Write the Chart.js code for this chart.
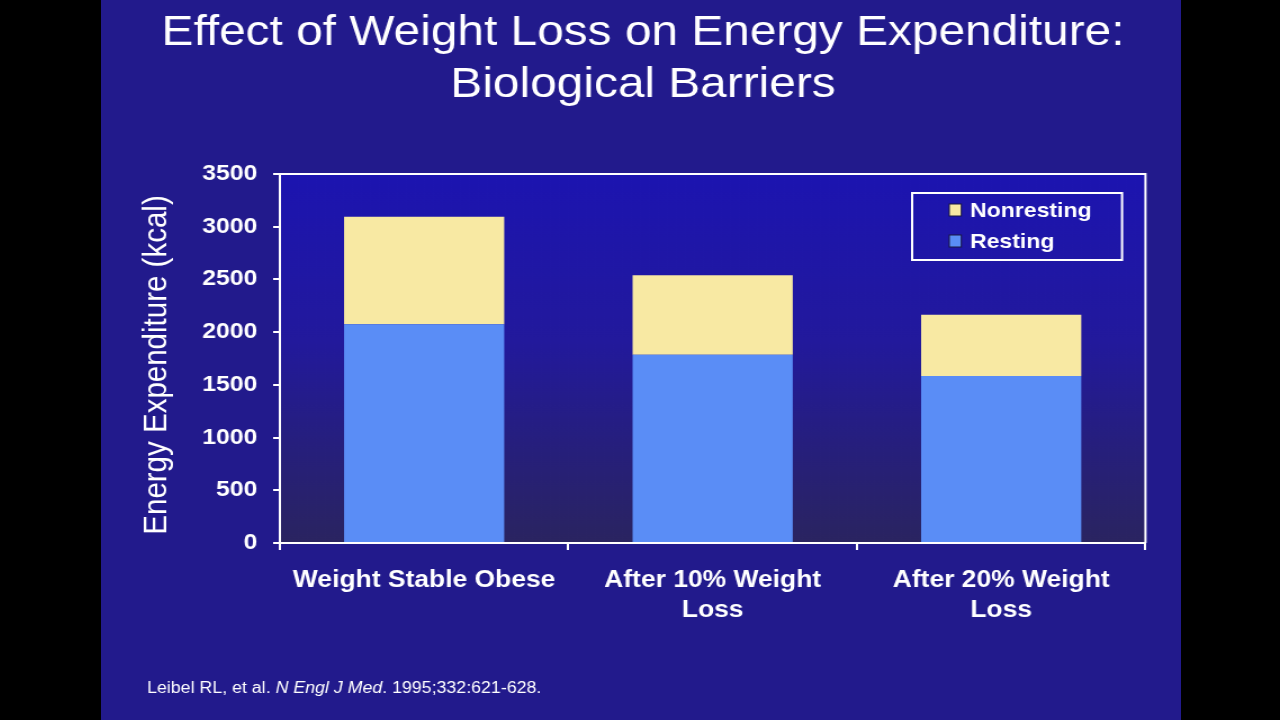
<!DOCTYPE html>
<html>
<head>
<meta charset="utf-8">
<script src="https://cdn.jsdelivr.net/npm/chart.js@4.4.1/dist/chart.umd.min.js"></script>
<style>
  html, body { margin: 0; padding: 0; background: #000; width: 1280px; height: 720px; overflow: hidden; }
  #wrap { position: absolute; left: 101px; top: 0; width: 960px; height: 720px; transform: scaleX(1.125); transform-origin: 0 0; }
  canvas { display: block; }
</style>
</head>
<body>
<div id="wrap"><canvas id="c" width="960" height="720"></canvas></div>
<script>
// ---- data ----
const categories = [['Weight Stable Obese'], ['After 10% Weight', 'Loss'], ['After 20% Weight', 'Loss']];
const restingValues = [2075, 1785, 1585];
const nonrestingValues = [1020, 755, 580];
const yTicks = [0, 500, 1000, 1500, 2000, 2500, 3000, 3500];
const titleLines = ['Effect of Weight Loss on Energy Expenditure:', 'Biological Barriers'];
const yAxisTitle = 'Energy Expenditure (kcal)';
const seriesNames = ['Resting', 'Nonresting'];

const FONT = '"Liberation Sans", Arial, Helvetica, sans-serif';
const RESTING = '#5a8df6';
const NONRESTING = '#f8e9a3';

const decorPlugin = {
  id: 'decor',
  beforeDraw(chart) {
    const ctx = chart.ctx, a = chart.chartArea;
    ctx.save();
    ctx.fillStyle = '#221a8c';
    ctx.fillRect(0, 0, chart.width, chart.height);
    const g = ctx.createLinearGradient(0, a.top, 0, a.bottom);
    g.addColorStop(0, '#1c14b0');
    g.addColorStop(0.45, '#22199c');
    g.addColorStop(1, '#2a2460');
    ctx.fillStyle = g;
    ctx.fillRect(a.left, a.top, a.right - a.left, a.bottom - a.top);
    // title
    ctx.fillStyle = '#ffffff';
    ctx.textAlign = 'center';
    ctx.textBaseline = 'alphabetic';
    ctx.font = '42.5px ' + FONT;
    ctx.fillText(titleLines[0], 481.8, 45);
    ctx.fillText(titleLines[1], 481.8, 97);
    // y axis title
    ctx.save();
    ctx.translate(49.8, 365);
    ctx.rotate(-Math.PI / 2);
    ctx.textBaseline = 'middle';
    ctx.font = '29.5px ' + FONT;
    ctx.fillText(yAxisTitle, 0, 0);
    ctx.restore();
    // citation
    ctx.textAlign = 'left';
    let x = 41;
    const y = 693;
    const parts = [['Leibel RL, et al. ', ''], ['N Engl J Med', 'italic '], ['. 1995;332:621-628.', '']];
    for (const [t, st] of parts) {
      ctx.font = st + '15.8px ' + FONT;
      ctx.fillText(t, x, y);
      x += ctx.measureText(t).width;
    }
    ctx.restore();
  },
  afterDatasetsDraw(chart) {
    const ctx = chart.ctx, a = chart.chartArea;
    ctx.save();
    ctx.strokeStyle = '#ffffff';
    ctx.lineWidth = 2;
    ctx.beginPath();
    ctx.moveTo(a.left, a.top);
    ctx.lineTo(a.right, a.top);
    ctx.lineTo(a.right, a.bottom);
    ctx.stroke();
    // legend
    const bx = 721, by = 193, bw = 186.6, bh = 67;
    ctx.lineWidth = 2;
    ctx.strokeRect(bx, by, bw, bh);
    const order = [1, 0];
    const rowsY = [210, 241];
    ctx.font = 'bold 20.5px ' + FONT;
    ctx.textBaseline = 'middle';
    ctx.textAlign = 'left';
    order.forEach((di, i) => {
      const ds = chart.data.datasets[di];
      ctx.fillStyle = ds.backgroundColor;
      ctx.fillRect(754, rowsY[i] - 6, 10.7, 12);
      ctx.strokeStyle = '#1a1840';
      ctx.lineWidth = 1;
      ctx.strokeRect(754, rowsY[i] - 6, 10.7, 12);
      ctx.fillStyle = '#ffffff';
      ctx.fillText(ds.label, 772.4, rowsY[i] + 1);
    });
    ctx.restore();
  }
};

new Chart(document.getElementById('c'), {
  type: 'bar',
  data: {
    labels: categories,
    datasets: [
      { label: seriesNames[0], data: restingValues, backgroundColor: RESTING, borderWidth: 0 },
      { label: seriesNames[1], data: nonrestingValues, backgroundColor: NONRESTING, borderWidth: 0 }
    ]
  },
  options: {
    responsive: false,
    animation: false,
    devicePixelRatio: 1,
    layout: { padding: { left: 20, right: 31.6, top: 174, bottom: 57 } },
    datasets: { bar: { categoryPercentage: 1, barPercentage: 0.555 } },
    plugins: { legend: { display: false }, tooltip: { enabled: false }, title: { display: false } },
    scales: {
      x: {
        stacked: true,
        afterFit(s) { s.height = 120; },
        grid: { offset: true, drawOnChartArea: false, tickLength: 7, color: '#ffffff', lineWidth: 2 },
        border: { color: '#ffffff', width: 2 },
        ticks: {
          color: '#ffffff', padding: 15, maxRotation: 0, minRotation: 0, autoSkip: false,
          font: { family: FONT, size: 23.5, weight: 'bold', lineHeight: 1.3 }
        }
      },
      y: {
        stacked: true,
        min: 0, max: 3500,
        afterFit(s) { s.width = 139; },
        afterBuildTicks(s) { s.ticks = yTicks.map(v => ({ value: v })); },
        grid: { drawOnChartArea: false, tickLength: 6, color: '#ffffff', lineWidth: 2 },
        border: { color: '#ffffff', width: 2 },
        ticks: {
          color: '#ffffff', padding: 14,
          callback: (v) => String(v),
          font: { family: FONT, size: 22, weight: 'bold' }
        },
        title: { display: false }
      }
    }
  },
  plugins: [decorPlugin]
});
</script>
</body>
</html>
